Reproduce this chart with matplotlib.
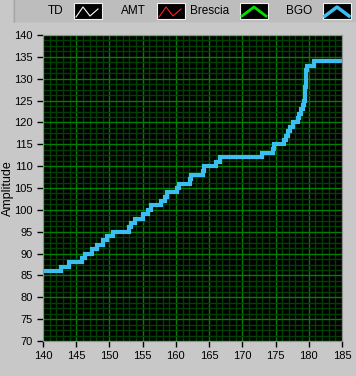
import numpy as np
import matplotlib
matplotlib.use("Agg")
from matplotlib import pyplot as plt
from matplotlib.ticker import MultipleLocator

plt.rcParams['font.family'] = ['Liberation Sans', 'DejaVu Sans']

bgo_x = [140, 142.7, 143.9, 145.8, 146.3, 147.4, 148.2, 149.1, 149.7, 150.6,
         152.9, 153.3, 153.8, 155.1, 155.8, 156.3, 157.7, 158.3, 158.6, 160.2,
         160.4, 162.1, 162.3, 164.1, 164.3, 166.1, 166.6, 172.9, 174.6, 174.8,
         176.3, 176.5, 176.8, 177.1, 177.6, 178.4, 178.6, 178.8, 179.2, 179.3,
         179.4, 179.5, 179.55, 179.6, 179.7, 180.8, 185]
bgo_y = [86, 87, 88, 89, 90, 91, 92, 93, 94, 95,
         96, 97, 98, 99, 100, 101, 102, 103, 104, 105,
         106, 107, 108, 109, 110, 111, 112, 113, 114, 115,
         116, 117, 118, 119, 120, 121, 122, 123, 124, 125,
         126, 128, 130, 132, 133, 134, 134]

legend_names = ['TD', 'AMT', 'Brescia', 'BGO']
legend_colors = ['white', '#ff2020', '#00e000', '#3cbef0']
legend_widths = [0.8, 0.8, 2.0, 2.5]

W, H = 356, 376
bg = '#c8c8c8'
fig = plt.figure(figsize=(W / 100, H / 100), dpi=100, facecolor=bg)

# plot area
ax = fig.add_axes([43 / W, (H - 341) / H, (342 - 43) / W, (341 - 35) / H])
ax.set_facecolor('black')
ax.plot(bgo_x, bgo_y, drawstyle='steps-post', color='#3cbef0', lw=3,
        solid_joinstyle='miter')
ax.set_xlim(140, 185)
ax.set_ylim(70, 140)
ax.xaxis.set_major_locator(MultipleLocator(5))
ax.xaxis.set_minor_locator(MultipleLocator(1))
ax.yaxis.set_major_locator(MultipleLocator(5))
ax.yaxis.set_minor_locator(MultipleLocator(1.25))
ax.grid(which='minor', color='#004000', lw=1)
ax.grid(which='major', color='#008000', lw=1)
ax.set_axisbelow(True)
ax.tick_params(which='major', length=4, width=1, labelsize=8, color='black')
ax.tick_params(which='minor', length=0)
for s in ax.spines.values():
    s.set_color('#909090')
ax.set_ylabel('Amplitude', fontsize=9, labelpad=0)

# legend strip on top
lax = fig.add_axes([13 / W, (H - 23) / H, (W - 13) / W, 23 / H])
lax.set_xlim(13, W)
lax.set_ylim(23, 0)
lax.set_facecolor('#bdbdbd')
for s in lax.spines.values():
    s.set_visible(False)
lax.set_xticks([])
lax.set_yticks([])
lax.axhline(22.5, color='#e4e4e4', lw=1)
lax.axvline(13.5, color='#a8a8a8', lw=1)

swatch_left = [74, 157, 240, 323]
zig_td = ([2, 9, 16, 24], [14, 4, 13, 6])
zig_peak = ([2, 14, 26], [13, 4, 13])
for i, name in enumerate(legend_names):
    x0 = swatch_left[i]
    lax.add_patch(plt.Rectangle((x0, 3), 28, 16, facecolor='black',
                                edgecolor='#f0f0f0', lw=0.8))
    zx, zy = zig_td if i < 2 else zig_peak
    lax.plot([x0 + v for v in zx], [3 + v for v in zy],
             color=legend_colors[i], lw=legend_widths[i])
    lax.text(x0 - 11, 11, name, ha='right', va='center', fontsize=8.5)

fig.savefig('out.png', dpi=100, facecolor=bg)
